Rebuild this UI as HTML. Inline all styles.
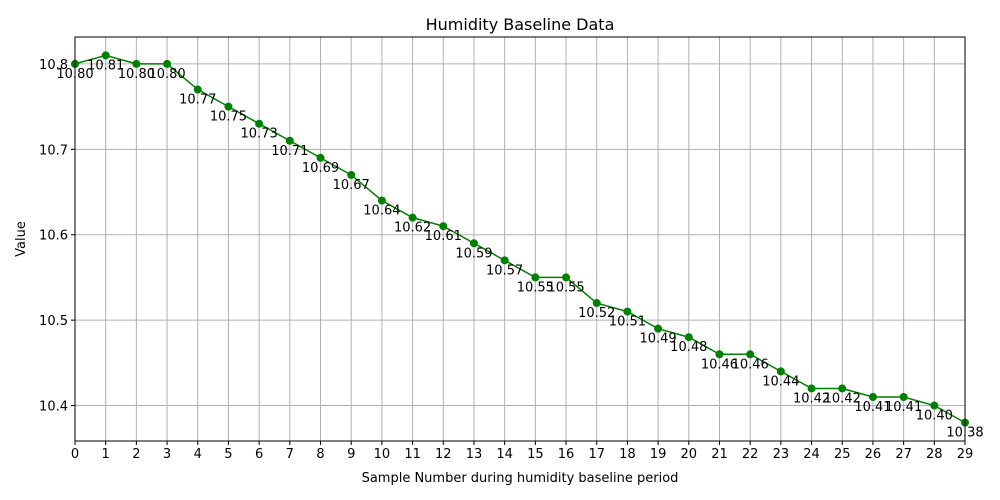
<!DOCTYPE html>
<html><head><meta charset="utf-8"><style>
html,body{margin:0;padding:0;background:#fff;}
svg{display:block;font-family:"DejaVu Sans","Liberation Sans",sans-serif;}
</style></head><body>
<svg id="chart" width="1000" height="500" viewBox="0 0 1000 500">
<rect x="0" y="0" width="1000" height="500" fill="#fff"/>
<g id="grid"></g>
<g id="axes"></g>
<g id="series"></g>
<g id="labels"></g>
<rect x="75" y="37" width="890" height="404" fill="none" stroke="#000" stroke-width="1"/>
<text x="520" y="30" text-anchor="middle" font-size="16">Humidity Baseline Data</text>
<text x="520" y="482" text-anchor="middle" font-size="13">Sample Number during humidity baseline period</text>
<text x="25" y="239" text-anchor="middle" font-size="13" transform="rotate(-90 25 239)">Value</text>
</svg>
<script>
const samples = [0,1,2,3,4,5,6,7,8,9,10,11,12,13,14,15,16,17,18,19,20,21,22,23,24,25,26,27,28,29];
const values = [10.80,10.81,10.80,10.80,10.77,10.75,10.73,10.71,10.69,10.67,10.64,10.62,10.61,10.59,10.57,10.55,10.55,10.52,10.51,10.49,10.48,10.46,10.46,10.44,10.42,10.42,10.41,10.41,10.40,10.38];
const yTicks = [10.4,10.5,10.6,10.7,10.8];
const yTickLabels = ["10.4","10.5","10.6","10.7","10.8"];

const NS = "http://www.w3.org/2000/svg";
const L=75,R=965,T=37,B=441;
const xmin=0,xmax=29;
const vmin=Math.min(...values),vmax=Math.max(...values),pad=(vmax-vmin)*0.05;
const ymin=vmin-pad,ymax=vmax+pad;
const xs=v=>L+(v-xmin)/(xmax-xmin)*(R-L);
const ys=v=>B-(v-ymin)/(ymax-ymin)*(B-T);
function mk(tag,attrs,parent){const e=document.createElementNS(NS,tag);for(const k in attrs)e.setAttribute(k,attrs[k]);document.getElementById(parent).appendChild(e);return e;}

samples.forEach(s=>{
  const x=xs(s);
  const g=mk('line',{x1:x,x2:x,y1:T,y2:B,stroke:'#b0b0b0','stroke-width':1},'grid');
  
  
  const t=mk('line',{x1:x,x2:x,y1:B,y2:B+4,stroke:'#000'},'axes');
  
  
  const lb=mk('text',{x:x,y:B+17,'text-anchor':'middle','font-size':13},'axes');
  lb.textContent=s;
  
  
});
yTicks.forEach((v,i)=>{
  const y=ys(v);
  const g=mk('line',{x1:L,x2:R,y1:y,y2:y,stroke:'#b0b0b0','stroke-width':1},'grid');
  
  
  const t=mk('line',{x1:L-4,x2:L,y1:y,y2:y,stroke:'#000'},'axes');
  
  
  const lb=mk('text',{x:L-7,y:y+5,'text-anchor':'end','font-size':13},'axes');
  lb.textContent=yTickLabels[i];
  
  
});
const pts=samples.map((s,i)=>xs(s)+','+ys(values[i])).join(' ');
const pl=mk('polyline',{points:pts,fill:'none',stroke:'#008000','stroke-width':1.5},'series');


samples.forEach((s,i)=>{
  const c=mk('circle',{cx:xs(s),cy:ys(values[i]),r:4,fill:'#008000'},'series');
  
  
  const lb=mk('text',{x:xs(s),y:ys(values[i])+14,'text-anchor':'middle','font-size':13},'labels');
  lb.textContent=values[i].toFixed(2);
  
  
});
</script>
</body></html>
